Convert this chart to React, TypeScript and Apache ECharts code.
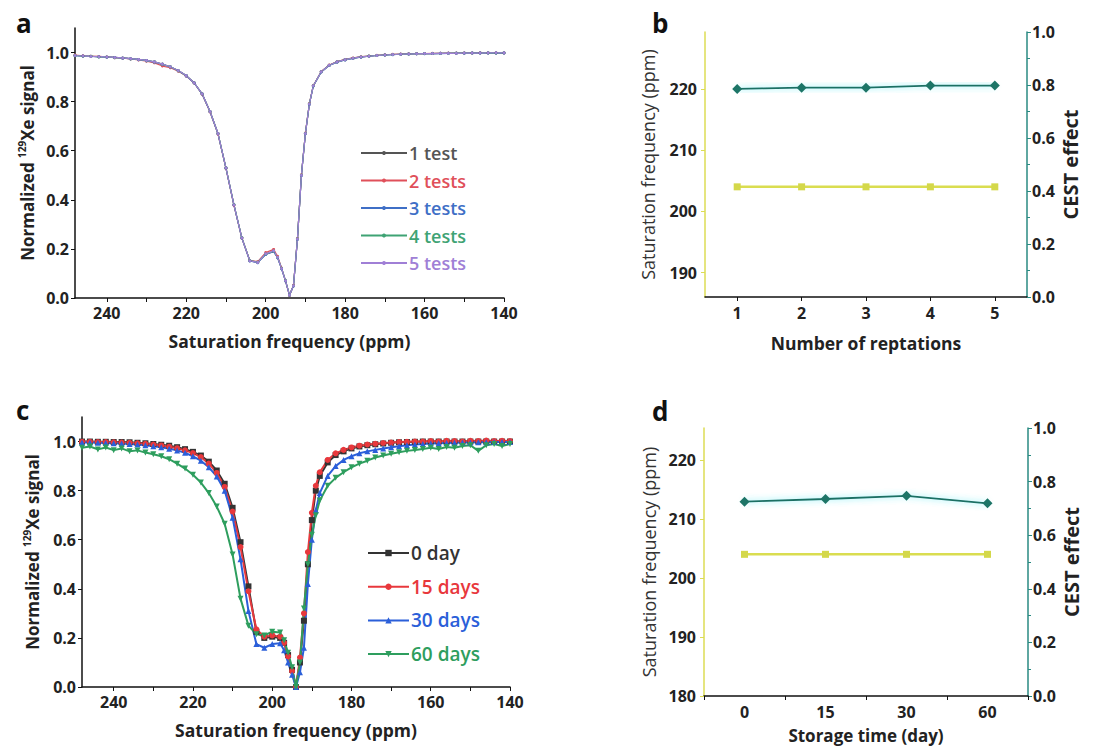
import React, { useEffect, useRef } from "react";
import * as echarts from "echarts";

// Shared saturation-frequency grid (ppm) for panels a and c
const ppmGrid = [
  248, 246, 244, 242, 240, 238, 236, 234, 232, 230, 228, 226, 224, 222, 220, 218, 216, 214, 212, 210, 208, 206, 204, 202, 200, 198,
  197, 196, 195, 194, 193, 192, 191, 190, 189, 188,
  186, 184, 182, 180, 178, 176, 174, 172, 170, 168, 166, 164, 162, 160, 158, 156, 154, 152, 150, 148, 146, 144, 142, 140,
];

// Panel a: repeated tests
const test1 = [
  0.988, 0.986, 0.985, 0.983, 0.982, 0.98, 0.978, 0.975, 0.972, 0.968, 0.962, 0.953, 0.942, 0.927, 0.906, 0.877, 0.832, 0.76, 0.67, 0.53, 0.38, 0.245, 0.152, 0.145, 0.178, 0.19,
  0.165, 0.12, 0.07, 0.012, 0.05, 0.24, 0.5, 0.67, 0.79, 0.865,
  0.922, 0.948, 0.962, 0.971, 0.977, 0.982, 0.985, 0.988, 0.99, 0.992, 0.993, 0.994, 0.995, 0.996, 0.996, 0.997, 0.997, 0.997, 0.998, 0.998, 0.998, 0.998, 0.998, 0.998,
];
const test2 = [
  0.99, 0.987, 0.985, 0.984, 0.982, 0.979, 0.977, 0.974, 0.97, 0.965, 0.958, 0.945, 0.938, 0.924, 0.904, 0.876, 0.83, 0.758, 0.668, 0.528, 0.378, 0.244, 0.153, 0.148, 0.185, 0.198,
  0.17, 0.122, 0.07, 0.01, 0.052, 0.242, 0.502, 0.672, 0.792, 0.866,
  0.923, 0.949, 0.963, 0.972, 0.978, 0.983, 0.986, 0.989, 0.991, 0.993, 0.994, 0.995, 0.996, 0.996, 0.997, 0.997, 0.998, 0.998, 0.998, 0.998, 0.999, 0.999, 0.999, 0.999,
];
const test3 = [
  0.987, 0.986, 0.984, 0.983, 0.981, 0.98, 0.977, 0.975, 0.971, 0.967, 0.961, 0.952, 0.941, 0.926, 0.905, 0.876, 0.831, 0.759, 0.669, 0.529, 0.379, 0.244, 0.151, 0.144, 0.177, 0.189,
  0.164, 0.119, 0.069, 0.011, 0.049, 0.239, 0.499, 0.669, 0.789, 0.864,
  0.921, 0.947, 0.961, 0.97, 0.976, 0.981, 0.985, 0.988, 0.99, 0.991, 0.993, 0.994, 0.995, 0.995, 0.996, 0.996, 0.997, 0.997, 0.997, 0.998, 0.998, 0.998, 0.998, 0.998,
];
const test4 = [
  0.988, 0.985, 0.985, 0.982, 0.982, 0.979, 0.978, 0.974, 0.972, 0.967, 0.962, 0.952, 0.942, 0.926, 0.906, 0.877, 0.832, 0.76, 0.67, 0.53, 0.381, 0.246, 0.153, 0.146, 0.179, 0.191,
  0.166, 0.121, 0.071, 0.012, 0.05, 0.241, 0.501, 0.671, 0.791, 0.865,
  0.922, 0.948, 0.962, 0.971, 0.977, 0.982, 0.986, 0.988, 0.99, 0.992, 0.993, 0.994, 0.995, 0.996, 0.996, 0.997, 0.997, 0.998, 0.998, 0.998, 0.998, 0.999, 0.998, 0.999,
];
const test5 = [
  0.988, 0.986, 0.984, 0.983, 0.982, 0.98, 0.978, 0.975, 0.972, 0.968, 0.962, 0.953, 0.942, 0.927, 0.906, 0.877, 0.832, 0.76, 0.67, 0.53, 0.38, 0.245, 0.152, 0.145, 0.18, 0.192,
  0.166, 0.12, 0.07, 0.012, 0.05, 0.24, 0.5, 0.67, 0.79, 0.865,
  0.922, 0.948, 0.962, 0.971, 0.977, 0.982, 0.985, 0.988, 0.99, 0.992, 0.993, 0.994, 0.995, 0.996, 0.996, 0.997, 0.997, 0.997, 0.998, 0.998, 0.998, 0.999, 0.999, 0.999,
];
const testNames = ["1 test", "2 tests", "3 tests", "4 tests", "5 tests"];
const testColors = ["#555555", "#e0505a", "#3f6fc6", "#3fa374", "#a07fd6"];

// Panel c: storage time
const day0 = [
  1.0, 1.0, 0.999, 0.999, 0.998, 0.998, 0.997, 0.995, 0.993, 0.99, 0.987, 0.983, 0.977, 0.969, 0.958, 0.943, 0.918, 0.882, 0.828, 0.73, 0.59, 0.41, 0.225, 0.2, 0.205, 0.2,
  0.18, 0.13, 0.07, 0.0, 0.1, 0.27, 0.5, 0.68, 0.8, 0.86,
  0.915, 0.945, 0.96, 0.972, 0.98, 0.985, 0.989, 0.992, 0.995, 0.997, 0.998, 0.999, 1.0, 1.0, 1.0, 1.0, 1.0, 1.0, 1.0, 1.0, 1.0, 1.0, 1.0, 1.0,
];
const day15 = [
  0.999, 0.999, 0.998, 0.998, 0.997, 0.996, 0.995, 0.993, 0.991, 0.988, 0.984, 0.979, 0.973, 0.964, 0.953, 0.937, 0.91, 0.872, 0.815, 0.715, 0.57, 0.39, 0.235, 0.205, 0.21, 0.205,
  0.18, 0.125, 0.065, 0.0, 0.12, 0.3, 0.55, 0.71, 0.82, 0.875,
  0.925, 0.952, 0.966, 0.976, 0.983, 0.988, 0.991, 0.994, 0.996, 0.998, 0.999, 1.0, 1.0, 1.002, 1.0, 1.003, 1.002, 1.0, 1.003, 1.002, 1.004, 1.002, 1.003, 1.002,
];
const day30 = [
  0.996, 0.996, 0.995, 0.994, 0.993, 0.992, 0.99, 0.988, 0.985, 0.981, 0.977, 0.971, 0.964, 0.954, 0.94, 0.922, 0.895, 0.858, 0.8, 0.69, 0.52, 0.31, 0.175, 0.16, 0.175, 0.178,
  0.15, 0.1, 0.05, 0.0, 0.06, 0.16, 0.42, 0.6, 0.72, 0.79,
  0.86, 0.9, 0.925, 0.94, 0.952, 0.96, 0.966, 0.972, 0.977, 0.981, 0.985, 0.988, 0.99, 0.992, 0.993, 0.994, 0.995, 0.996, 0.996, 0.997, 0.997, 0.998, 0.998, 0.998,
];
const day60 = [
  0.975, 0.98, 0.968, 0.976, 0.965, 0.972, 0.96, 0.964, 0.955, 0.948, 0.94, 0.928, 0.91, 0.89, 0.865, 0.833, 0.79, 0.735, 0.665, 0.54, 0.36, 0.25, 0.215, 0.21, 0.225, 0.222,
  0.19, 0.14, 0.08, 0.0, 0.1, 0.32, 0.5, 0.62, 0.7, 0.76,
  0.82, 0.852, 0.875, 0.895, 0.91, 0.922, 0.935, 0.943, 0.95, 0.956, 0.962, 0.966, 0.97, 0.975, 0.97, 0.978, 0.975, 0.982, 0.985, 0.962, 0.985, 0.99, 0.982, 0.99,
];
const dayNames = ["0 day", "15 days", "30 days", "60 days"];
const dayColors = ["#333333", "#e8383c", "#2b5fd9", "#2e9e5e"];
const daySymbols = ["rect", "circle", "triangle", "triangle"];
const daySymbolRotate = [0, 0, 0, 180];

// Panel b
const repCategories = ["1", "2", "3", "4", "5"];
const repSatFreq = [204, 204, 204, 204, 204];
const repCest = [0.785, 0.79, 0.79, 0.798, 0.798];

// Panel d
const storeCategories = ["0", "15", "30", "60"];
const storeSatFreq = [204, 204, 204, 204];
const storeCest = [0.725, 0.735, 0.747, 0.719];

// Tick values
const ppmLabels = [140, 160, 180, 200, 220, 240];
const ppmTicks = [140, 150, 160, 170, 180, 190, 200, 210, 220, 230, 240];
const signalTicks = [0, 0.2, 0.4, 0.6, 0.8, 1.0];
const freqTicksB = [190, 200, 210, 220];
const freqTicksD = [180, 190, 200, 210, 220];

const FONT = "Open Sans";
const YELLOW = "#dcdc55";
const TEAL = "#2a8a82";

export default function App() {
  const ref = useRef<HTMLDivElement>(null);

  useEffect(() => {
    if (!ref.current) return;
    const chart = echarts.init(ref.current, null, { renderer: "svg" });

    const labelStyle = { color: "#222", fontSize: 16, fontWeight: "bold", fontFamily: FONT };
    const blackLine = { show: true, lineStyle: { color: "#111", width: 1.5 } };
    const boldName = { color: "#222", fontSize: 17.5, fontWeight: "bold", fontFamily: FONT };
    const richY = {
      rich: {
        n: { fontSize: 17, fontWeight: "bold", fontFamily: FONT, color: "#222", lineHeight: 20 },
        s: { fontSize: 10, fontWeight: "bold", fontFamily: FONT, color: "#222", lineHeight: 10, verticalAlign: "top" },
      },
    };

    const spectrumX = (gridIndex: number, gap: number) => ({
      gridIndex,
      type: "value",
      min: 140,
      max: 248,
      inverse: true,
      interval: 20,
      axisLine: blackLine,
      axisTick: { show: true, customValues: ppmTicks, length: 4, lineStyle: { color: "#111" } },
      axisLabel: { ...labelStyle, customValues: ppmLabels, margin: 7 },
      splitLine: { show: false },
      name: "Saturation frequency (ppm)",
      nameLocation: "middle",
      nameGap: gap,
      nameTextStyle: boldName,
    });
    const spectrumY = (gridIndex: number, gap: number) => ({
      gridIndex,
      type: "value",
      min: 0,
      max: 1.1,
      axisLine: blackLine,
      axisTick: { show: true, customValues: signalTicks, length: 4, lineStyle: { color: "#111" } },
      axisLabel: { ...labelStyle, customValues: signalTicks, formatter: (v: number) => v.toFixed(1), margin: 6 },
      splitLine: { show: false },
      name: "{n|Normalized }{s|129}{n|Xe signal}",
      nameLocation: "middle",
      nameGap: gap,
      nameTextStyle: richY,
    });

    const catX = (gridIndex: number, data: string[], name: string, gap: number, align: boolean, size: number) => ({
      gridIndex,
      type: "category",
      data,
      axisLine: blackLine,
      axisTick: { show: true, alignWithLabel: align, length: 4, lineStyle: { color: "#111" } },
      axisLabel: { ...labelStyle, margin: 8 },
      name,
      nameLocation: "middle",
      nameGap: gap,
      nameTextStyle: { color: "#222", fontSize: size, fontWeight: "bold", fontFamily: FONT, lineHeight: size + 2 },
    });
    const freqY = (gridIndex: number, min: number, max: number, ticks: number[], gap: number) => ({
      gridIndex,
      type: "value",
      position: "left",
      min,
      max,
      axisLine: { show: true, lineStyle: { color: YELLOW, width: 1.5 } },
      axisTick: { show: true, customValues: ticks, length: 4, lineStyle: { color: YELLOW } },
      axisLabel: { ...labelStyle, customValues: ticks, margin: 8 },
      splitLine: { show: false },
      name: "Saturation frequency (ppm)",
      nameLocation: "middle",
      nameGap: gap,
      nameTextStyle: { color: "#333", fontSize: 18, fontWeight: 500, fontFamily: FONT },
    });
    const cestY = (gridIndex: number) => ({
      gridIndex,
      type: "value",
      position: "right",
      min: 0,
      max: 1,
      interval: 0.2,
      axisLine: { show: true, lineStyle: { color: TEAL, width: 1.5 } },
      axisTick: { show: true, length: 4, lineStyle: { color: TEAL } },
      minorTick: { show: true, splitNumber: 2, length: 3, lineStyle: { color: TEAL } },
      axisLabel: { ...labelStyle, formatter: (v: number) => v.toFixed(1), margin: 5 },
      splitLine: { show: false },
      name: "CEST effect",
      nameLocation: "middle",
      nameGap: 33,
      nameTextStyle: { color: "#222", fontSize: 20, fontWeight: "bold", fontFamily: FONT },
    });

    const testSeries = [test1, test2, test3, test4, test5].map((arr, i) => ({
      type: "line",
      name: testNames[i],
      xAxisIndex: 0,
      yAxisIndex: 0,
      data: ppmGrid.map((x, j) => [x, arr[j]]),
      symbol: "circle",
      symbolSize: 3,
      itemStyle: { color: testColors[i] },
      lineStyle: { color: testColors[i], width: 1.2 },
    }));
    const daySeries = [day0, day15, day30, day60].map((arr, i) => ({
      type: "line",
      name: dayNames[i],
      xAxisIndex: 2,
      yAxisIndex: 3,
      data: ppmGrid.map((x, j) => [x, arr[j]]),
      symbol: daySymbols[i],
      symbolRotate: daySymbolRotate[i],
      symbolSize: 6,
      itemStyle: { color: dayColors[i] },
      lineStyle: { color: dayColors[i], width: 2 },
    }));

    const yellowSeries = (xi: number, yi: number, data: number[]) => ({
      type: "line",
      name: "Saturation frequency",
      xAxisIndex: xi,
      yAxisIndex: yi,
      data,
      symbol: "rect",
      symbolSize: 7,
      itemStyle: { color: "#d4d84a" },
      lineStyle: { color: "#dadd50", width: 2.5 },
    });
    const tealSeries = (xi: number, yi: number, data: number[]) => ({
      type: "line",
      name: "CEST effect",
      xAxisIndex: xi,
      yAxisIndex: yi,
      data,
      symbol: "diamond",
      symbolSize: 10,
      itemStyle: { color: "#1d7567" },
      lineStyle: { color: "#1d6f64", width: 1.8, shadowBlur: 6, shadowColor: "rgba(60,230,240,0.8)" },
    });

    const letter = (text: string, x: number, y: number) => ({
      type: "text",
      x,
      y,
      style: { text, font: `bold 26px '${FONT}'`, fill: "#111", verticalAlign: "middle", align: "left" },
    });

    chart.setOption({
      animation: false,
      backgroundColor: "#ffffff",
      textStyle: { fontFamily: FONT },
      grid: [
        { left: 75, top: 28, width: 429, height: 270 },
        { left: 705, top: 32, width: 322, height: 265 },
        { left: 82, top: 417, width: 428, height: 270 },
        { left: 704, top: 428, width: 324, height: 268 },
      ],
      xAxis: [
        spectrumX(0, 34),
        catX(1, repCategories, "Number of reptations", 36, true, 17.5),
        spectrumX(2, 34),
        catX(3, storeCategories, "Storage time (day)", 30, false, 17),
      ],
      yAxis: [
        spectrumY(0, 38),
        freqY(1, 186, 229.3, freqTicksB, 48),
        cestY(1),
        spectrumY(2, 40),
        freqY(3, 180, 225.4, freqTicksD, 46),
        cestY(3),
      ],
      legend: [
        {
          orient: "vertical",
          selectedMode: false,
          left: 355,
          top: 138,
          itemWidth: 46,
          itemHeight: 5,
          itemGap: 7.5,
          data: testNames.map((n, i) => ({ name: n, textStyle: { color: testColors[i] } })),
          textStyle: { fontSize: 18, fontWeight: 600, lineHeight: 20, fontFamily: FONT, padding: [0, 0, 0, -3] },
        },
        {
          orient: "vertical",
          selectedMode: false,
          left: 362,
          top: 537,
          itemWidth: 41,
          itemHeight: 8,
          itemGap: 11.7,
          data: dayNames.map((n, i) => ({ name: n, textStyle: { color: dayColors[i] } })),
          textStyle: { fontSize: 19, fontWeight: 600, lineHeight: 22, fontFamily: FONT, padding: [0, 0, 0, -3] },
        },
      ],
      graphic: [
        letter("a", 16, 23),
        letter("b", 652, 23),
        letter("c", 16, 410),
        letter("d", 652, 411),
      ],
      series: [
        ...testSeries,
        yellowSeries(1, 1, repSatFreq),
        tealSeries(1, 2, repCest),
        ...daySeries,
        yellowSeries(3, 4, storeSatFreq),
        tealSeries(3, 5, storeCest),
      ],
    });

    return () => chart.dispose();
  }, []);

  return (
    <div
      ref={ref}
      style={{ position: "absolute", left: 0, top: 0, width: 1094, height: 747, background: "#fff" }}
    />
  );
}
